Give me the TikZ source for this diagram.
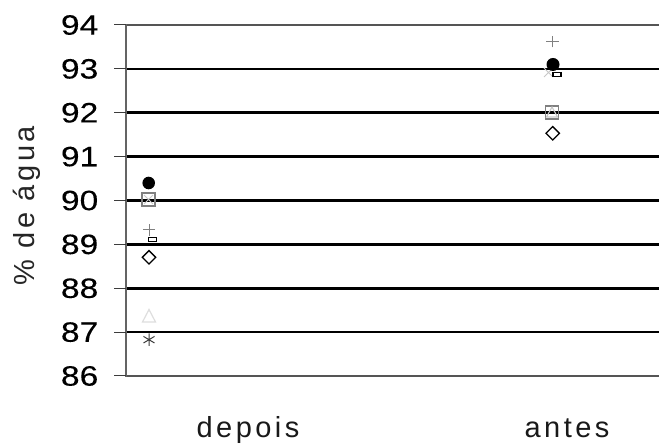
\documentclass[tikz,border=0pt]{standalone}
\usepackage{fontspec}
\setmainfont{Liberation Sans}[LetterSpace=12]
\newfontfamily\digfont{Liberation Sans}[FakeStretch=1.2,FakeBold=0.12]
\definecolor{frameg}{RGB}{85,85,85}
\definecolor{axisg}{RGB}{100,100,100}
\definecolor{markg}{RGB}{128,128,128}
\definecolor{lightg}{RGB}{200,200,200}
\definecolor{paleg}{RGB}{222,222,222}
\definecolor{darkg}{RGB}{60,60,60}
\tikzset{
  gridln/.style={black, line width=2.7pt},
  frameln/.style={frameg, line width=2.5pt},
  axisln/.style={axisg, line width=1.7pt},
  tickln/.style={darkg, line width=1pt},
  ticklab/.style={anchor=east, inner sep=0pt, text=black, font=\digfont\fontsize{28}{30}\selectfont},
  catlab/.style={anchor=base, inner sep=0pt, text=black!90},
  mk/.style={line width=1.3pt},
}
\begin{document}
\begin{tikzpicture}[x=1pt,y=1pt,font=\fontsize{29}{31}\selectfont]
\useasboundingbox (0,0) rectangle (659,446);
\fill[white] (0,0) rectangle (659,446);
% grid
\foreach \k in {1,...,7}{
  \draw[gridln] (127,{70+\k*43.875}) -- (659,{70+\k*43.875});
}
\draw[frameln] (126,421) -- (659,421);
\draw[frameln] (126,70) -- (659,70);
\draw[axisln] (126,69) -- (126,422);
\foreach \k in {0,...,8}{
  \draw[tickln] (114,{70+\k*43.875}) -- (126,{70+\k*43.875});
  \pgfmathtruncatemacro{\lab}{86+\k}
  \node[ticklab] (t\k) at (98.5,{70+\k*43.875}) {\lab};
}
% axis title
\node[rotate=90, anchor=base, inner sep=0pt, text=black!85] (ylab) at (34,240) {\% de água};
% categories
\node[catlab] (cdep) at (248,8) {depois};
\node[catlab] (cant) at (567,8) {antes};
% ---- markers, depois
\draw[lightg, line width=1pt] (144,242) -- (153,251) (144,251) -- (153,242);
\draw[markg, line width=1.2pt] (142,240) rectangle (155,253);
\fill[black] (148.7,263) circle (6.3);
\draw[markg, line width=1pt] (143,216) -- (155,216) (149,210) -- (149,222);
\draw[mk, fill=white] (148.5,204.5) rectangle (156.5,208.7);
\draw[mk, fill=white] (149,195.4) -- (155.7,188.7) -- (149,182) -- (142.3,188.7) -- cycle;
\draw[paleg, line width=1.2pt] (142.5,124) -- (155.5,124) -- (149,136.5) -- cycle;
\draw[darkg, line width=1pt] (149,100) -- (149,112.6) (143.5,103) -- (154.5,109.6) (143.5,109.6) -- (154.5,103);
% ---- markers, antes
\draw[markg, line width=1pt] (546.2,404.3) -- (559.2,404.3) (552.7,398.5) -- (552.7,410);
\draw[lightg, line width=1pt] (544,369) -- (553,378) (544,378) -- (553,369);
\fill[black] (553,381.5) circle (6.5);
\draw[mk, fill=white] (553,369.3) rectangle (561,373.5);
\draw[markg, line width=1.2pt] (545.5,327) rectangle (558.5,340);
\draw[lightg, line width=1.1pt] (546.5,329) -- (557.5,329) -- (552,339) -- cycle;
\draw[mk, fill=white] (552.7,319.4) -- (559.4,312.7) -- (552.7,306) -- (546,312.7) -- cycle;
\end{tikzpicture}
\end{document}
